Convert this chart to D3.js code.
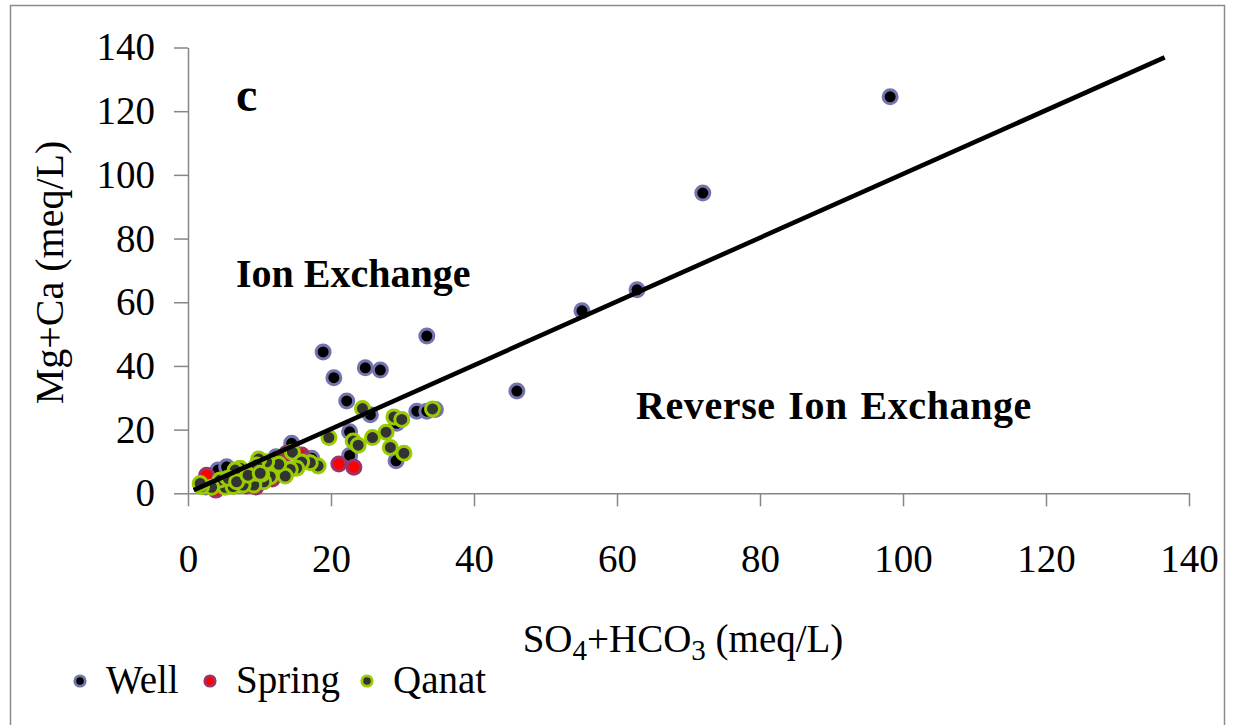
<!DOCTYPE html>
<html>
<head>
<meta charset="utf-8">
<script src="https://cdn.jsdelivr.net/npm/d3@7"></script>
<style>
  html, body { margin: 0; padding: 0; background: #fff; }
  svg { display: block; }
  svg text { font-family: "Liberation Serif", "Times New Roman", Times, serif !important; }
</style>
</head>
<body>
<svg id="chart" width="1235" height="725"></svg>
<script>
// SO4+HCO3 (x) vs Mg+Ca (y), meq/L, by water source
const wellPoints = [
  [98.2, 124.5], [72.0, 94.3], [62.8, 63.9], [55.1, 57.3], [46.0, 32.1],
  [33.4, 49.4], [18.9, 44.4], [20.4, 36.3], [24.8, 39.4], [26.9, 38.7],
  [22.2, 29.0], [25.5, 24.7], [32.0, 25.8], [33.4, 25.8], [34.6, 26.3],
  [29.2, 22.0], [22.6, 19.3], [29.1, 10.2], [22.6, 11.9], [14.5, 15.7],
  [17.3, 11.0], [4.2, 7.3], [5.4, 8.3], [3.0, 4.5], [10.2, 8.5],
  [12.3, 11.5], [8.0, 4.0], [2.5, 2.0]
];
const springPoints = [
  [3.9, 1.0], [8.2, 2.3], [13.8, 12.6], [21.1, 9.2], [23.2, 8.2],
  [2.6, 5.7], [5.5, 3.0], [7.2, 6.8], [12.5, 10.5], [15.9, 12.0],
  [16.5, 10.3], [9.5, 2.0], [11.8, 4.5]
];
const qanatPoints = [
  [24.4, 26.6], [28.8, 24.0], [29.9, 23.2], [34.2, 26.5], [19.7, 17.5],
  [23.1, 16.4], [23.8, 15.1], [25.8, 17.5], [27.7, 19.2], [28.3, 14.4],
  [30.2, 12.6], [18.2, 8.6], [17.1, 9.6], [14.6, 12.9], [15.9, 9.8],
  [15.2, 7.9], [14.3, 7.5], [13.6, 5.4], [12.7, 9.1], [11.0, 9.9],
  [9.9, 10.8], [11.5, 5.2], [10.6, 3.6], [10.3, 6.0], [9.2, 2.6],
  [9.6, 6.3], [9.6, 8.9], [8.2, 6.1], [7.3, 7.9], [6.3, 4.2],
  [6.6, 7.3], [5.2, 1.9], [4.5, 4.2], [3.3, 1.9], [1.9, 2.1],
  [1.7, 3.1], [6.3, 2.1], [7.7, 2.6], [5.6, 4.7], [6.8, 3.6],
  [8.4, 5.7], [10.1, 6.3]
];
// 1:1 reference line
const linePoints = [[0.8, 1.0], [136.6, 136.9]];

const xTicks = [0, 20, 40, 60, 80, 100, 120, 140];
const yTicks = [0, 20, 40, 60, 80, 100, 120, 140];

const seriesNames = ["Well", "Spring", "Qanat"];
const seriesFill = ["#000000", "#ff0000", "#333333"];
const seriesStroke = ["#7474ae", "#9c3468", "#99cc00"];

const SERIF = '"Liberation Serif", "Times New Roman", Times, serif';
const FONT = 39;
const svg = d3.select("#chart").attr("font-family", SERIF);

// outer frame
svg.append("rect")
  .attr("x", 10.5).attr("y", 5.5)
  .attr("width", 1214).attr("height", 740)
  .attr("fill", "none").attr("stroke", "#8c8c8c").attr("stroke-width", 1.5);

const x = d3.scaleLinear().domain([0, 140]).range([188, 1189]);
const y = d3.scaleLinear().domain([0, 140]).range([493.3, 47.5]);

// axes
const xAxis = svg.append("g")
  .attr("transform", `translate(0,${y(0)})`)
  .call(d3.axisBottom(x).tickValues(xTicks).tickSize(13).tickSizeOuter(0).tickPadding(38).tickFormat(d3.format("d")));
const yAxis = svg.append("g")
  .attr("transform", `translate(${x(0)},0)`)
  .call(d3.axisLeft(y).tickValues(yTicks).tickSize(14).tickSizeOuter(0).tickPadding(19).tickFormat(d3.format("d")));

[xAxis, yAxis].forEach(g => {
  g.attr("font-family", SERIF).attr("font-size", FONT);
  g.select(".domain").attr("stroke", "#868686").attr("stroke-width", 1.5);
  g.selectAll(".tick line").attr("stroke", "#868686").attr("stroke-width", 1.5);
  g.selectAll(".tick text")
    .attr("fill", "#000")
    .attr("font-family", SERIF)
    .attr("font-size", FONT);
});

// scatter series: Well, then Spring, then Qanat on top
const series = [wellPoints, springPoints, qanatPoints];
series.forEach((pts, i) => {
  svg.append("g").selectAll("circle")
    .data(pts)
    .join("circle")
    .attr("cx", d => x(d[0]))
    .attr("cy", d => y(d[1]))
    .attr("r", 7.0)
    .attr("fill", seriesFill[i])
    .attr("stroke", seriesStroke[i])
    .attr("stroke-width", 3.0);
});

// 1:1 line
svg.append("path")
  .datum(linePoints)
  .attr("d", d3.line().x(d => x(d[0])).y(d => y(d[1])))
  .attr("fill", "none")
  .attr("stroke", "#000")
  .attr("stroke-width", 4.6);

// panel letter and region labels
svg.append("text")
  .attr("x", 236).attr("y", 111)
  .attr("font-family", SERIF)
  .attr("font-size", 48).attr("font-weight", "bold")
  .text("c");
svg.append("text")
  .attr("x", 236).attr("y", 287)
  .attr("font-family", SERIF)
  .attr("font-size", 40).attr("font-weight", "bold")
  .text("Ion Exchange");
svg.append("text")
  .attr("x", 636).attr("y", 419)
  .attr("font-family", SERIF)
  .attr("font-size", 40).attr("font-weight", "bold")
  .attr("letter-spacing", 0.6)
  .attr("word-spacing", 2)
  .text("Reverse Ion Exchange");

// axis titles
const xt = svg.append("text")
  .attr("x", 683).attr("y", 652)
  .attr("text-anchor", "middle")
  .attr("font-family", SERIF)
  .attr("font-size", FONT);
xt.append("tspan").text("SO");
xt.append("tspan").attr("dy", 8).attr("font-size", 29).text("4");
xt.append("tspan").attr("dy", -8).text("+HCO");
xt.append("tspan").attr("dy", 8).attr("font-size", 29).text("3");
xt.append("tspan").attr("dy", -8).text(" (meq/L)");

svg.append("text")
  .attr("transform", "translate(63,272.5) rotate(-90)")
  .attr("text-anchor", "middle")
  .attr("font-family", SERIF)
  .attr("font-size", 40)
  .text("Mg+Ca (meq/L)");

// legend
const legendX = [80, 210, 367];
const legend = svg.append("g");
seriesNames.forEach((name, i) => {
  legend.append("circle")
    .attr("cx", legendX[i]).attr("cy", 681)
    .attr("r", 5.2)
    .attr("fill", seriesFill[i])
    .attr("stroke", seriesStroke[i])
    .attr("stroke-width", 2.8);
  legend.append("text")
    .attr("x", legendX[i] + 26).attr("y", 693)
    .attr("font-family", SERIF)
    .attr("font-size", FONT)
    .text(name);
});
</script>
</body>
</html>
